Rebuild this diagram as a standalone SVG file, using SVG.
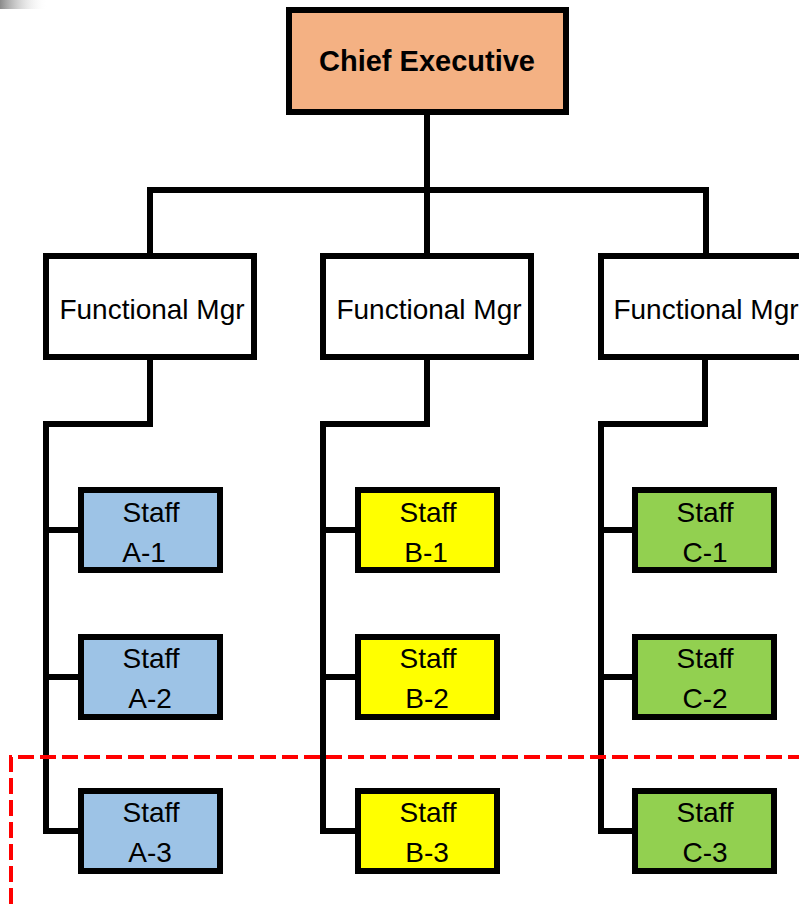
<svg xmlns="http://www.w3.org/2000/svg" width="799" height="904" viewBox="0 0 799 904">
  <defs>
    <linearGradient id="shade" x1="0" y1="0" x2="1" y2="0">
      <stop offset="0" stop-color="#8a8a8a"/>
      <stop offset="1" stop-color="#ffffff" stop-opacity="0"/>
    </linearGradient>
    <style>
      .box { stroke: #000; stroke-width: 6; }
      .conn { fill: none; stroke: #000; stroke-width: 6; stroke-linejoin: miter; stroke-linecap: square; }
      .t { font-family: "Liberation Sans", Arial, sans-serif; font-size: 28px; fill: #000; text-anchor: middle; }
      .tb { font-family: "Liberation Sans", Arial, sans-serif; font-size: 29px; font-weight: bold; fill: #000; text-anchor: middle; }
      .a { fill: #9DC3E6; }
      .b { fill: #FFFF00; }
      .c { fill: #92D050; }
    </style>
  </defs>
  <rect width="799" height="904" fill="#ffffff"/>
  <rect x="0" y="0" width="48" height="9" fill="url(#shade)"/>

  <g id="connectors">
    <path class="conn" d="M427 116 V253"/>
    <path class="conn" d="M150 253 V190 H706 V253"/>
    <path class="conn" d="M150 360 V424 H46 V831 H78"/>
    <path class="conn" d="M46 530 H78"/>
    <path class="conn" d="M46 677 H78"/>
    <path class="conn" d="M427 360 V424 H323 V831 H355"/>
    <path class="conn" d="M323 530 H355"/>
    <path class="conn" d="M323 677 H355"/>
    <path class="conn" d="M705 360 V424 H601 V831 H632"/>
    <path class="conn" d="M601 530 H632"/>
    <path class="conn" d="M601 677 H632"/>
  </g>

  <g id="chief">
    <rect class="box" x="289" y="10" width="277" height="102" fill="#F4B183"/>
    <text class="tb" x="427" y="71">Chief Executive</text>
  </g>

  <g id="mgr-a">
    <rect class="box" x="46" y="256" width="208" height="101" fill="#ffffff"/>
    <text class="t" x="152" y="319">Functional Mgr</text>
  </g>
  <g id="mgr-b">
    <rect class="box" x="323" y="256" width="208" height="101" fill="#ffffff"/>
    <text class="t" x="429" y="319">Functional Mgr</text>
  </g>
  <g id="mgr-c">
    <rect class="box" x="601" y="256" width="208" height="101" fill="#ffffff"/>
    <text class="t" x="706" y="319">Functional Mgr</text>
  </g>

  <g id="staff-a1">
    <rect class="box a" x="81" y="490" width="139" height="80"/>
    <text class="t" x="151" y="522">Staff</text>
    <text class="t" x="144" y="562">A-1</text>
  </g>
  <g id="staff-a2">
    <rect class="box a" x="81" y="637" width="139" height="80"/>
    <text class="t" x="151" y="668">Staff</text>
    <text class="t" x="150" y="708">A-2</text>
  </g>
  <g id="staff-a3">
    <rect class="box a" x="81" y="791" width="139" height="80"/>
    <text class="t" x="151" y="822">Staff</text>
    <text class="t" x="150" y="862">A-3</text>
  </g>

  <g id="staff-b1">
    <rect class="box b" x="358" y="490" width="139" height="80"/>
    <text class="t" x="428" y="522">Staff</text>
    <text class="t" x="426" y="562">B-1</text>
  </g>
  <g id="staff-b2">
    <rect class="box b" x="358" y="637" width="139" height="80"/>
    <text class="t" x="428" y="668">Staff</text>
    <text class="t" x="427" y="708">B-2</text>
  </g>
  <g id="staff-b3">
    <rect class="box b" x="358" y="791" width="139" height="80"/>
    <text class="t" x="428" y="822">Staff</text>
    <text class="t" x="427" y="862">B-3</text>
  </g>

  <g id="staff-c1">
    <rect class="box c" x="635" y="490" width="139" height="80"/>
    <text class="t" x="705" y="522">Staff</text>
    <text class="t" x="705" y="562">C-1</text>
  </g>
  <g id="staff-c2">
    <rect class="box c" x="635" y="637" width="139" height="80"/>
    <text class="t" x="705" y="668">Staff</text>
    <text class="t" x="705" y="708">C-2</text>
  </g>
  <g id="staff-c3">
    <rect class="box c" x="635" y="791" width="139" height="80"/>
    <text class="t" x="705" y="822">Staff</text>
    <text class="t" x="705" y="862">C-3</text>
  </g>

  <path id="boundary" d="M11 904 V757 H799" fill="none" stroke="#FF0000" stroke-width="4" stroke-dasharray="16 6"/>
</svg>
